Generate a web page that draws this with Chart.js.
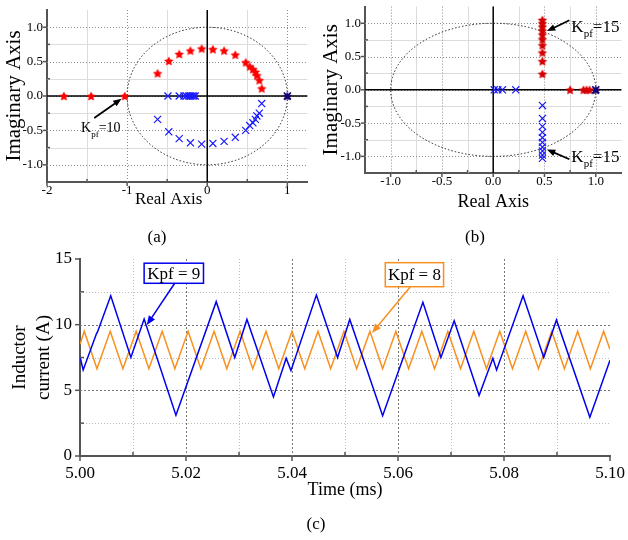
<!DOCTYPE html>
<html>
<head>
<meta charset="utf-8">
<script src="https://cdn.jsdelivr.net/npm/chart.js@4.4.1/dist/chart.umd.min.js"></script>
<style>
  body { margin: 0; background: #fff; }
  #wrap { position: relative; width: 628px; height: 540px; }
  canvas { position: absolute; }
</style>
</head>
<body>
<div id="wrap">
  <canvas id="chartA" width="314" height="250" style="left:0;top:0"></canvas>
  <canvas id="chartB" width="314" height="250" style="left:314px;top:0"></canvas>
  <canvas id="chartC" width="628" height="290" style="left:0;top:250px"></canvas>
</div>
<script>
// ---- (a) root locus, Kpf up to 10 ----
const aStarRe = [-1.79, -1.45, -1.03, -0.62, -0.48, -0.35, -0.21, -0.07, 0.07, 0.21, 0.35, 0.48, 0.53, 0.57, 0.60, 0.62, 0.65, 0.68];
const aStarIm = [0, 0, 0, 0.33, 0.51, 0.61, 0.66, 0.69, 0.68, 0.66, 0.60, 0.49, 0.43, 0.39, 0.35, 0.30, 0.23, 0.11];
const aCrossRe = [-0.62, -0.48, -0.35, -0.21, -0.07, 0.07, 0.21, 0.35, 0.48, 0.53, 0.57, 0.60, 0.62, 0.65, 0.68,
                  -0.49, -0.35, -0.29, -0.26, -0.23, -0.21, -0.19, -0.17, -0.15];
const aCrossIm = [-0.34, -0.52, -0.62, -0.68, -0.70, -0.69, -0.66, -0.60, -0.50, -0.43, -0.39, -0.34, -0.29, -0.25, -0.11,
                  0, 0, 0, 0, 0, 0, 0, 0, 0];
const aXTicks = [-2, -1, 0, 1];
const aXMinor = [-1.5, -0.5, 0.5];
const aYTicks = [-1, -0.5, 0, 0.5, 1];
const aYMinor = [-0.75, -0.25, 0.25, 0.75];

// ---- (b) root locus, Kpf up to 15 ----
const bStarRe = [0.48, 0.48, 0.48, 0.48, 0.48, 0.48, 0.48, 0.48, 0.48, 0.48, 0.75, 0.88, 0.91, 0.94];
const bStarIm = [0.24, 0.43, 0.56, 0.67, 0.76, 0.83, 0.89, 0.95, 1.00, 1.05, 0, 0, 0, 0];
const bCrossRe = [0.01, 0.045, 0.09, 0.22, 0.48, 0.48, 0.48, 0.48, 0.48, 0.48, 0.48, 0.48, 0.48, 0.48];
const bCrossIm = [0, 0, 0, 0, -0.235, -0.43, -0.55, -0.64, -0.72, -0.79, -0.86, -0.92, -0.98, -1.03];
const bTicks = [-1, -0.5, 0, 0.5, 1];
const bMinor = [-0.75, -0.25, 0.25, 0.75];

// common pole at z = 1
const unitRe = [1];
const unitIm = [0];

// ---- (c) inductor current ----
const blueT = [5.0000, 5.0006, 5.0031, 5.0033, 5.0058, 5.0096, 5.0121, 5.0181, 5.0257, 5.0292, 5.0315, 5.0365, 5.0389, 5.0398, 5.0446,
               5.0486, 5.0509, 5.0571, 5.0647, 5.0681, 5.0706, 5.0753, 5.0779, 5.0786, 5.0836, 5.0875, 5.0899, 5.0962, 5.1000];
const blueI = [7.56, 6.55, 9.30, 9.45, 12.2, 7.5, 10.43, 3.1, 11.75, 7.5, 10.4, 4.5, 7.44, 6.5, 12.26,
               7.5, 10.4, 3.07, 11.7, 7.5, 10.3, 4.6, 7.44, 6.55, 12.2, 7.5, 10.36, 2.95, 7.3];
const orangeT = [5.0000, 5.0008, 5.0032, 5.0057, 5.0081, 5.0106, 5.0130, 5.0155, 5.0179, 5.0204, 5.0228, 5.0253, 5.0277, 5.0302,
                 5.0326, 5.0351, 5.0375, 5.0400, 5.0424, 5.0449, 5.0473, 5.0498, 5.0522, 5.0547, 5.0571, 5.0596, 5.0620, 5.0645,
                 5.0669, 5.0694, 5.0718, 5.0743, 5.0767, 5.0792, 5.0816, 5.0841, 5.0865, 5.0890, 5.0914, 5.0939, 5.0963, 5.0988, 5.1000];
const orangeI = [8.5, 9.5, 6.65, 9.5, 6.65, 9.5, 6.65, 9.5, 6.65, 9.5, 6.65, 9.5, 6.65, 9.5,
                 6.65, 9.5, 6.65, 9.5, 6.65, 9.5, 6.65, 9.5, 6.65, 9.5, 6.65, 9.5, 6.65, 9.5,
                 6.65, 9.5, 6.65, 9.5, 6.65, 9.5, 6.65, 9.5, 6.65, 9.5, 6.65, 9.5, 6.65, 9.5, 8.1];
const cXTicks = [5.00, 5.02, 5.04, 5.06, 5.08, 5.10];
const cXMinor = [5.01, 5.03, 5.05, 5.07, 5.09];
const cYTicks = [0, 5, 10, 15];
const cYMinor = [2.5, 7.5, 12.5];

const FONT = '"Liberation Serif", "Times New Roman", serif';
Chart.defaults.font.family = FONT;
Chart.defaults.color = '#000';

const pts = (xs, ys) => xs.map((x, i) => ({ x: x, y: ys[i] }));

// filled five point star used as point style
function starImage(color, r) {
  const c = document.createElement('canvas');
  const s = Math.ceil(r * 2 + 2);
  c.width = c.height = s;
  const g = c.getContext('2d');
  g.fillStyle = color;
  g.beginPath();
  for (let i = 0; i < 10; i++) {
    const rad = i % 2 ? r * 0.5 : r;
    const ang = -Math.PI / 2 + i * Math.PI / 5;
    g.lineTo(s / 2 + rad * Math.cos(ang), s / 2 + 0.5 + rad * Math.sin(ang));
  }
  g.closePath();
  g.fill();
  return c;
}

function arrow(ctx, x1, y1, x2, y2, color, width, head) {
  const ang = Math.atan2(y2 - y1, x2 - x1);
  ctx.strokeStyle = color;
  ctx.fillStyle = color;
  ctx.lineWidth = width;
  ctx.setLineDash([]);
  ctx.beginPath();
  ctx.moveTo(x1, y1);
  ctx.lineTo(x2 - head * 0.8 * Math.cos(ang), y2 - head * 0.8 * Math.sin(ang));
  ctx.stroke();
  ctx.beginPath();
  ctx.moveTo(x2, y2);
  ctx.lineTo(x2 - head * Math.cos(ang - 0.38), y2 - head * Math.sin(ang - 0.38));
  ctx.lineTo(x2 - head * Math.cos(ang + 0.38), y2 - head * Math.sin(ang + 0.38));
  ctx.closePath();
  ctx.fill();
}

// "K" with subscript "pf"
function kLabel(ctx, x, y, size, rest) {
  ctx.fillStyle = '#000';
  ctx.textAlign = 'left';
  ctx.textBaseline = 'alphabetic';
  ctx.font = size + 'px ' + FONT;
  ctx.fillText('K', x, y);
  let w = ctx.measureText('K').width;
  ctx.font = Math.round(size * 0.65) + 'px ' + FONT;
  ctx.fillText('pf', x + w, y + size * 0.3);
  w += ctx.measureText('pf').width;
  ctx.font = size + 'px ' + FONT;
  ctx.fillText(rest, x + w, y);
}

// grid, unit circle, tick marks, notes and caption
function makeDecor(spec) {
  return {
    id: 'decor',
    beforeDatasetsDraw(chart) {
      const { ctx, chartArea: a, scales: { x, y } } = chart;
      const line = (st, x1, y1, x2, y2) => {
        ctx.strokeStyle = st.color;
        ctx.lineWidth = st.width;
        ctx.setLineDash(st.dash || []);
        ctx.beginPath();
        ctx.moveTo(x1, y1);
        ctx.lineTo(x2, y2);
        ctx.stroke();
      };
      const inside = (s, v) => v > s.min + 1e-9 && v < s.max - 1e-9;
      ctx.save();
      spec.xMinor.filter(v => inside(x, v)).forEach(v => {
        const p = Math.round(x.getPixelForValue(v)) + 0.5;
        line(spec.minor, p, a.top, p, a.bottom);
      });
      spec.yMinor.filter(v => inside(y, v)).forEach(v => {
        const p = Math.round(y.getPixelForValue(v)) + 0.5;
        line(spec.minor, a.left, p, a.right, p);
      });
      spec.xMajor.filter(v => inside(x, v)).forEach(v => {
        const p = Math.round(x.getPixelForValue(v)) + 0.5;
        line(spec.major, p, a.top, p, a.bottom);
      });
      spec.yMajor.filter(v => inside(y, v)).forEach(v => {
        const p = Math.round(y.getPixelForValue(v)) + 0.5;
        line(spec.major, a.left, p, a.right, p);
      });
      if (spec.zeroAxes) {
        const x0 = x.getPixelForValue(0), y0 = y.getPixelForValue(0);
        line({ color: '#000', width: 1.5 }, x0, a.top, x0, a.bottom);
        line({ color: '#000', width: 1.5 }, a.left, y0, a.right, y0);
      }
      if (spec.circle) {
        const cx = x.getPixelForValue(0), cy = y.getPixelForValue(0);
        ctx.strokeStyle = '#222';
        ctx.lineWidth = 1;
        ctx.setLineDash([1.5, 2]);
        ctx.beginPath();
        ctx.ellipse(cx, cy, x.getPixelForValue(1) - cx, cy - y.getPixelForValue(1), 0, 0, Math.PI * 2);
        ctx.stroke();
      }
      ctx.restore();
    },
    afterDatasetsDraw(chart) {
      const { ctx, chartArea: a, scales: { x, y } } = chart;
      ctx.save();
      ctx.strokeStyle = spec.axisColor;
      ctx.lineWidth = 1.5;
      ctx.setLineDash([]);
      const within = (s, v) => v >= s.min - 1e-9 && v <= s.max + 1e-9;
      const tick = (vals, len, isX) => {
        vals.forEach(v => {
          ctx.beginPath();
          if (isX) {
            if (!within(x, v)) return;
            const p = x.getPixelForValue(v);
            ctx.moveTo(p, a.bottom);
            ctx.lineTo(p, a.bottom + len);
          } else {
            if (!within(y, v)) return;
            const p = y.getPixelForValue(v);
            ctx.moveTo(a.left, p);
            ctx.lineTo(a.left - len, p);
          }
          ctx.stroke();
        });
      };
      tick(spec.xMajor, spec.tickLen, true);
      tick(spec.xMinor, -spec.minorLen, true);
      tick(spec.yMajor, spec.tickLen, false);
      tick(spec.yMinor, -spec.minorLen, false);
      const P = (vx, vy) => [x.getPixelForValue(vx), y.getPixelForValue(vy)];
      if (spec.notes) spec.notes(ctx, P);
      ctx.fillStyle = '#000';
      ctx.font = '17px ' + FONT;
      ctx.textAlign = 'center';
      ctx.textBaseline = 'middle';
      ctx.fillText(spec.caption[0], spec.caption[1], spec.caption[2]);
      ctx.restore();
    }
  };
}

function axisX(min, max, ticks, fmt, height, titleText, titleSize, titlePad, tickPad, tickSize) {
  return {
    type: 'linear', min: min, max: max,
    afterBuildTicks: s => { s.ticks = ticks.map(v => ({ value: v })); },
    afterFit: s => { s.height = height; s.paddingLeft = 0; s.paddingRight = 0; },
    grid: { display: false, drawTicks: false },
    border: { display: true, color: '#555', width: 2 },
    ticks: { autoSkip: false, maxRotation: 0, padding: tickPad, font: { size: tickSize }, callback: v => v.toFixed(fmt) },
    title: { display: true, text: titleText, font: { size: titleSize }, padding: { top: 0, bottom: titlePad } }
  };
}

function axisY(min, max, ticks, fmt, width, titleText, titleSize, titleTop, tickPad, tickSize, lh) {
  return {
    type: 'linear', min: min, max: max,
    afterBuildTicks: s => { s.ticks = ticks.map(v => ({ value: v })); },
    afterFit: s => { s.width = width; s.paddingTop = 0; s.paddingBottom = 0; },
    grid: { display: false, drawTicks: false },
    border: { display: true, color: '#555', width: 2 },
    ticks: { autoSkip: false, padding: tickPad, font: { size: tickSize }, callback: v => v.toFixed(fmt) },
    title: { display: true, text: titleText, font: { size: titleSize, lineHeight: lh }, padding: { top: titleTop, bottom: 0 } }
  };
}

const baseOpts = {
  responsive: false,
  animation: false,
  events: [],
  plugins: { legend: { display: false }, tooltip: { enabled: false } }
};

const crossStyle = color => ({ pointStyle: 'crossRot', pointRadius: 5, borderColor: color, backgroundColor: color, borderWidth: 1.2 });

// ---------- chart (a) ----------
new Chart(document.getElementById('chartA'), {
  type: 'scatter',
  data: {
    datasets: [
      Object.assign({ data: pts(unitRe, unitIm) }, crossStyle('#000080'), { borderWidth: 1.6 }),
      Object.assign({ data: pts(aCrossRe, aCrossIm) }, crossStyle('#1a1aff')),
      { data: pts(aStarRe, aStarIm), pointStyle: starImage('#ff0000', 5), pointRadius: 4 },
      { data: pts(unitRe, unitIm), pointStyle: starImage('#400050', 5), pointRadius: 4 }
    ]
  },
  options: Object.assign({}, baseOpts, {
    layout: { padding: { left: 0, top: 10, right: 4, bottom: 0 } },
    scales: {
      // trailing spaces pull the centred title left, clear of the "0" label
      x: axisX(-2, 1.25, aXTicks, 0, 68, 'Real Axis\u2002\u2002', 17, 40, 1, 13),
      y: axisY(-1.25, 1.25, aYTicks, 1, 47, 'Imaginary Axis', 21, 2, 4, 13, 1.2)
    }
  }),
  plugins: [makeDecor({
    xMajor: aXTicks, xMinor: aXMinor, yMajor: aYTicks, yMinor: aYMinor,
    major: { color: '#8a8a8a', width: 1, dash: [1, 2] },
    minor: { color: '#dcdcdc', width: 1 },
    zeroAxes: true, circle: true, axisColor: '#555', tickLen: 4, minorLen: 3,
    caption: ['(a)', 157, 238],
    notes: (ctx, P) => {
      const [t1x, t1y] = P(-1.41, -0.32), [h1x, h1y] = P(-1.07, -0.04);
      arrow(ctx, t1x, t1y, h1x, h1y, '#000', 1.8, 9);
      const [kx, ky] = P(-1.575, -0.53);
      kLabel(ctx, kx, ky, 14, '=10');
    }
  })]
});

// ---------- chart (b) ----------
new Chart(document.getElementById('chartB'), {
  type: 'scatter',
  data: {
    datasets: [
      Object.assign({ data: pts(unitRe, unitIm) }, crossStyle('#000080'), { borderWidth: 1.6 }),
      Object.assign({ data: pts(bCrossRe, bCrossIm) }, crossStyle('#1a1aff')),
      { data: pts(bStarRe, bStarIm), pointStyle: starImage('#d40000', 5), pointRadius: 4 },
      { data: pts(unitRe, unitIm), pointStyle: starImage('#400050', 5), pointRadius: 4 }
    ]
  },
  options: Object.assign({}, baseOpts, {
    layout: { padding: { left: 0, top: 4, right: 1, bottom: 0 } },
    scales: {
      x: axisX(-1.25, 1.25, bTicks, 1, 77, 'Real Axis', 18, 37, 1, 13),
      y: axisY(-1.25, 1.25, bTicks, 1, 51, 'Imaginary Axis', 21, 4.4, 4, 13, 1.2)
    }
  }),
  plugins: [makeDecor({
    xMajor: bTicks, xMinor: bMinor, yMajor: bTicks, yMinor: bMinor,
    major: { color: '#8a8a8a', width: 1, dash: [1, 2] },
    minor: { color: '#dcdcdc', width: 1 },
    zeroAxes: true, circle: true, axisColor: '#555', tickLen: 4, minorLen: 3,
    caption: ['(b)', 161, 238],
    notes: (ctx, P) => {
      let [tx, ty] = P(0.743, 1.044), [hx, hy] = P(0.524, 0.882);
      arrow(ctx, tx, ty, hx, hy, '#000', 1.8, 9);
      [tx, ty] = P(0.743, -1.044); [hx, hy] = P(0.524, -0.897);
      arrow(ctx, tx, ty, hx, hy, '#000', 1.8, 9);
      let [kx, ky] = P(0.762, 0.87);
      kLabel(ctx, kx, ky, 17, '=15');
      [kx, ky] = P(0.762, -1.09);
      kLabel(ctx, kx, ky, 17, '=15');
    }
  })]
});

// ---------- chart (c) ----------
function noteBox(ctx, P, x1, y1, x2, y2, color, text) {
  const [ax, ay] = P(x1, y1), [bx, by] = P(x2, y2);
  ctx.fillStyle = '#fff';
  ctx.fillRect(ax, by, bx - ax, ay - by);
  ctx.strokeStyle = color;
  ctx.lineWidth = 1.5;
  ctx.setLineDash([]);
  ctx.strokeRect(ax, by, bx - ax, ay - by);
  ctx.fillStyle = '#000';
  ctx.font = '17px ' + FONT;
  ctx.textAlign = 'center';
  ctx.textBaseline = 'middle';
  ctx.fillText(text, (ax + bx) / 2, (ay + by) / 2 + 1);
}

new Chart(document.getElementById('chartC'), {
  type: 'line',
  data: {
    datasets: [
      { label: 'Kpf = 9', data: pts(blueT, blueI), borderColor: '#0000ee', borderWidth: 1.5, pointRadius: 0, tension: 0 },
      { label: 'Kpf = 8', data: pts(orangeT, orangeI), borderColor: '#f7901e', borderWidth: 1.5, pointRadius: 0, tension: 0 }
    ]
  },
  options: Object.assign({}, baseOpts, {
    layout: { padding: { left: 0, top: 9, right: 18, bottom: 0 } },
    scales: {
      x: axisX(5.0, 5.1, cXTicks, 2, 84, 'Time (ms)', 18, 39, 7, 17),
      y: axisY(0, 15, cYTicks, 0, 80, ['Inductor', 'current (A)'], 19, 8, 8, 17, 24 / 19)
    }
  }),
  plugins: [makeDecor({
    xMajor: cXTicks, xMinor: cXMinor, yMajor: cYTicks, yMinor: cYMinor,
    major: { color: '#777', width: 1, dash: [2, 2] },
    minor: { color: '#bbb', width: 1, dash: [1, 2] },
    zeroAxes: false, circle: false, axisColor: '#555', tickLen: 5, minorLen: 4,
    caption: ['(c)', 316, 275],
    notes: (ctx, P) => {
      let [tx, ty] = P(5.0179, 13.17), [hx, hy] = P(5.0126, 9.97);
      arrow(ctx, tx, ty, hx, hy, '#0000ee', 1.5, 10);
      [tx, ty] = P(5.0623, 12.87); [hx, hy] = P(5.0551, 9.37);
      arrow(ctx, tx, ty, hx, hy, '#f7901e', 1.5, 10);
      noteBox(ctx, P, 5.0121, 13.15, 5.0233, 14.68, '#0000ee', 'Kpf = 9');
      noteBox(ctx, P, 5.0576, 12.89, 5.0686, 14.72, '#f7901e', 'Kpf = 8');
    }
  })]
});
</script>
</body>
</html>
